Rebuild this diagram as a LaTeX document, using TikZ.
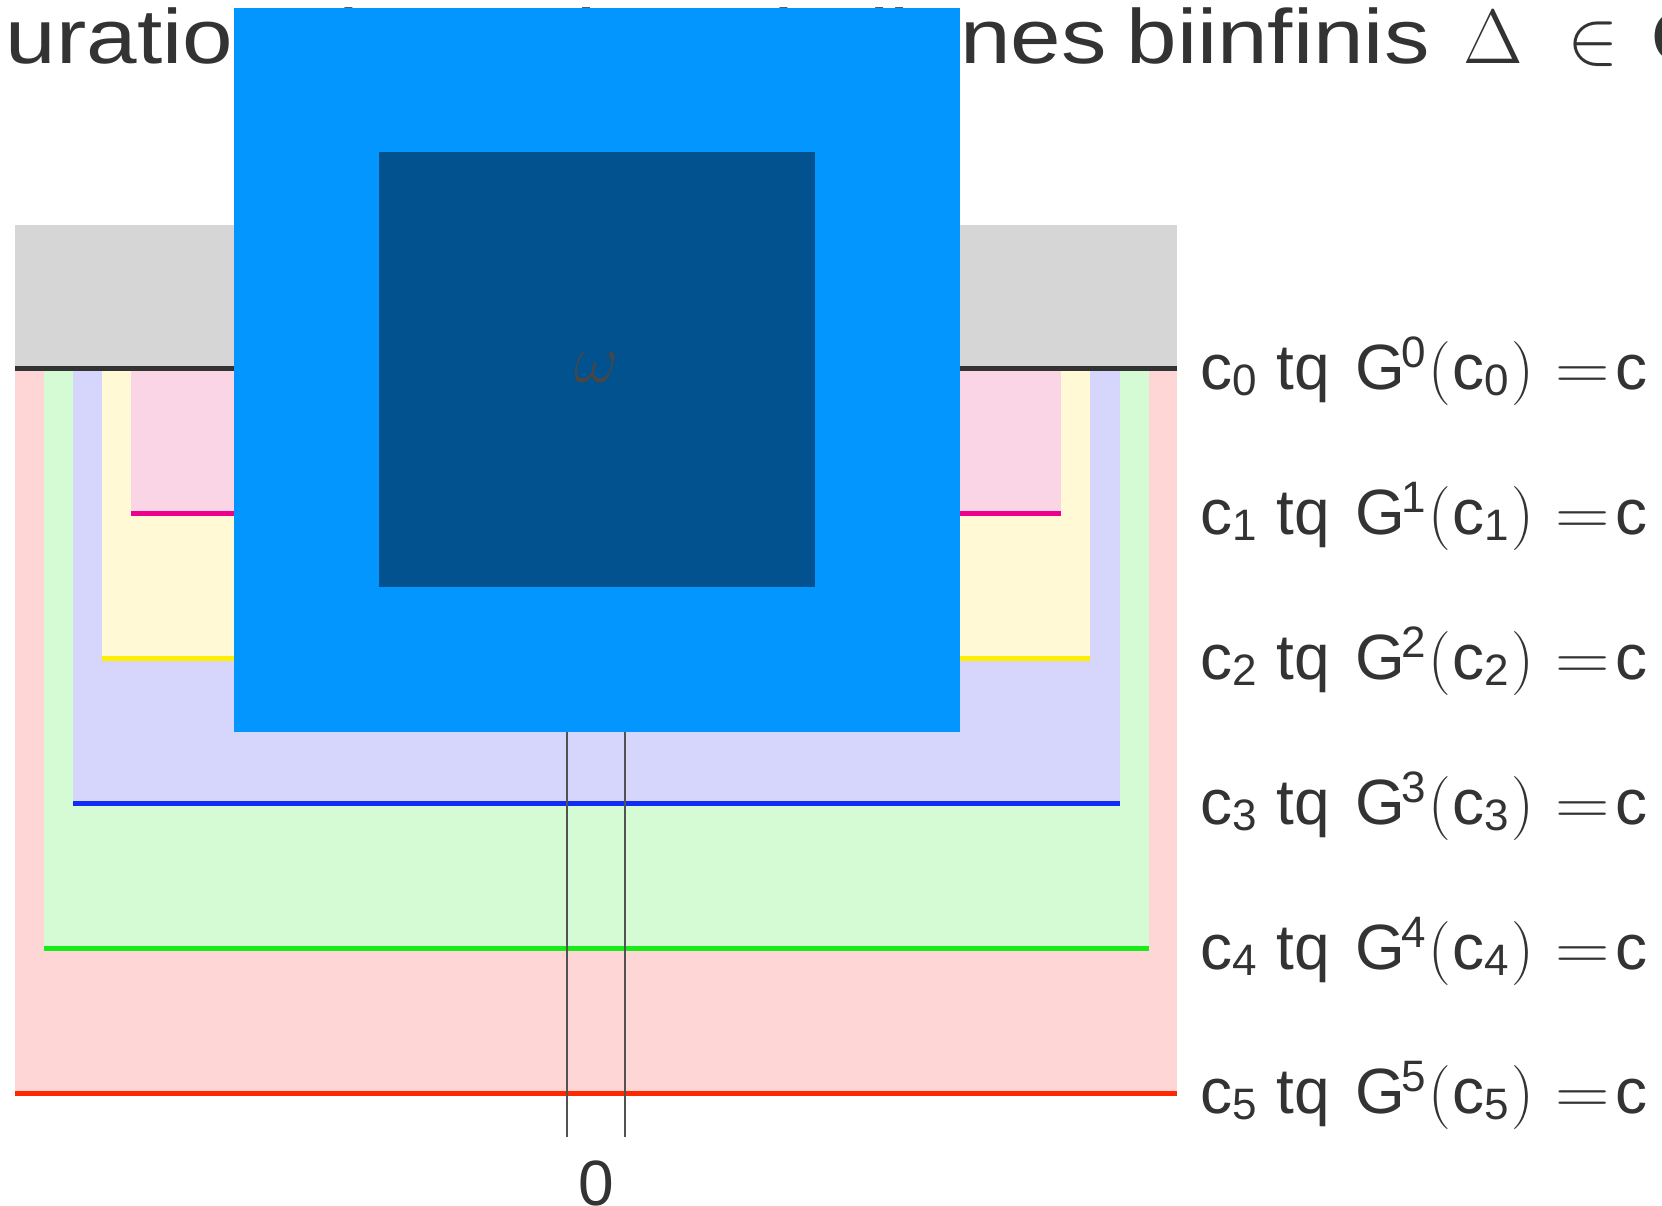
\RequirePackage{fix-cm}
\documentclass[tikz,border=0pt]{standalone}
\usepackage{graphicx}
\usepackage[no-math]{fontspec}
\setmainfont{Liberation Sans}
\newfontfamily\titlefont[FakeStretch=1.18]{Liberation Sans}

\definecolor{ink}{RGB}{51,51,51}
\definecolor{capfill}{RGB}{214,214,214}
\definecolor{fillfive}{RGB}{255,214,214}
\definecolor{fillfour}{RGB}{213,251,213}
\definecolor{fillthree}{RGB}{214,214,252}
\definecolor{filltwo}{RGB}{255,249,214}
\definecolor{fillone}{RGB}{249,213,229}
\definecolor{linezero}{RGB}{51,51,51}
\definecolor{lineone}{RGB}{236,0,140}
\definecolor{linetwo}{RGB}{255,238,0}
\definecolor{linethree}{RGB}{16,44,245}
\definecolor{linefour}{RGB}{25,235,25}
\definecolor{linefive}{RGB}{255,40,0}
\definecolor{outersq}{RGB}{3,150,255}
\definecolor{innersq}{RGB}{1,82,143}

% small indices for the labels
\newcommand{\lowidx}[1]{\raisebox{-6pt}{\fontsize{44}{44}\selectfont #1}}
\newcommand{\highidx}[1]{\raisebox{22pt}{\fontsize{44}{44}\selectfont #1}}
% label "c_k tq G^k(c_k) = c"
\newcommand{\cklabel}[1]{c\lowidx{#1}\hspace{20pt}tq\hspace{25pt}G\hspace{-3pt}\highidx{#1}\hspace{2pt}$($\hspace{2pt}c\lowidx{#1}\hspace{2pt}$)$\hspace{21pt}\scalebox{1.18}[1]{$=$}\hspace{6pt}c}

\tikzset{
  level/.style={line width=5pt},
  axisline/.style={draw=ink!85, line width=2.6pt},
  eqlabel/.style={anchor=base west, inner sep=0pt, text=ink, font=\fontsize{64}{70}\selectfont},
}

\begin{document}
\begin{tikzpicture}[x=1pt,y=-1pt]
\useasboundingbox (0,0) rectangle (1662,1206);
\clip (0,0) rectangle (1662,1206);
\fill[white] (0,0) rectangle (1662,1206);

% title line
\node[anchor=base west, inner sep=0pt, text=ink, font=\titlefont\fontsize{77}{80}\selectfont] (title) at (-257,64)
  {Configuration des suites de lignes\hspace{20pt}biinfinis\hspace{34pt}$\Delta$\hspace{44pt}$\in$\hspace{32pt}C};

% grey cap above level 0
\fill[capfill] (15,225) rectangle (1177,368);

% nested regions
\fill[fillfive]  (15,368)  rectangle (1177,1093);
\fill[fillfour]  (44,368)  rectangle (1149,948);
\fill[fillthree] (73,368)  rectangle (1120,803);
\fill[filltwo]   (102,368) rectangle (1090,658);
\fill[fillone]   (131,368) rectangle (1061,513);

% level lines
\coordinate (a0) at (15,368);   \coordinate (b0) at (1177,368);
\coordinate (a1) at (131,513);  \coordinate (b1) at (1061,513);
\coordinate (a2) at (102,658);  \coordinate (b2) at (1090,658);
\coordinate (a3) at (73,803);   \coordinate (b3) at (1120,803);
\coordinate (a4) at (44,948);   \coordinate (b4) at (1149,948);
\coordinate (a5) at (15,1093);  \coordinate (b5) at (1177,1093);
\draw[level, linezero]  (a0) -- (b0);
\draw[level, lineone]   (a1) -- (b1);
\draw[level, linetwo]   (a2) -- (b2);
\draw[level, linethree] (a3) -- (b3);
\draw[level, linefour]  (a4) -- (b4);
\draw[level, linefive]  (a5) -- (b5);

% the two verticals around 0
\coordinate (ltop) at (567,368); \coordinate (lbot) at (567,1137);
\coordinate (rtop) at (625,368); \coordinate (rbot) at (625,1137);
\draw[axisline] (ltop) -- (lbot);
\draw[axisline] (rtop) -- (rbot);
\node[anchor=base, inner sep=0pt, text=ink, font=\fontsize{64}{70}\selectfont] (zero) at (596,1205) {0};

% squares
\fill[outersq] (234,8) rectangle (960,732);
\fill[innersq] (379,152) rectangle (815,587);
\node[text=ink!90, inner sep=0pt, font=\fontsize{68}{70}\selectfont] (omega) at (596,368) {$\omega$};

% labels
\node[eqlabel] (l0) at (1200,389)  {\cklabel{0}};
\node[eqlabel] (l1) at (1200,534)  {\cklabel{1}};
\node[eqlabel] (l2) at (1200,679)  {\cklabel{2}};
\node[eqlabel] (l3) at (1200,824)  {\cklabel{3}};
\node[eqlabel] (l4) at (1200,969)  {\cklabel{4}};
\node[eqlabel] (l5) at (1200,1113) {\cklabel{5}};
\end{tikzpicture}
\end{document}
